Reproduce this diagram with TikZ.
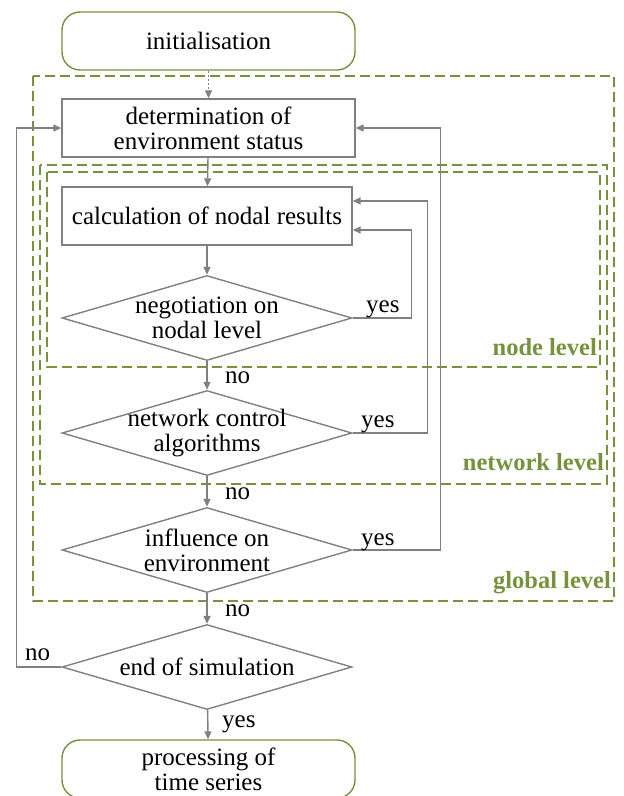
\documentclass[tikz,border=0pt]{standalone}
\usepackage{fontspec}
\setmainfont{Liberation Serif}
\usetikzlibrary{shapes.geometric,arrows.meta,calc}
\definecolor{olive}{RGB}{118,146,60}
\definecolor{linegrey}{RGB}{128,128,128}

\begin{document}
\begin{tikzpicture}[x=1pt,y=-1pt,
  every node/.style={font=\fontsize{25}{25}\selectfont},
  flow/.style={draw=linegrey, line width=1.4pt, -{Triangle[length=8pt,width=7pt]}},
  procbox/.style={draw=linegrey, line width=1.4pt, minimum width=293pt, minimum height=58pt, align=center, inner sep=0pt},
  termbox/.style={draw=olive, line width=1.4pt, rounded corners=18pt, minimum width=293pt, minimum height=58pt, align=center, inner sep=0pt},
  decision/.style={draw=linegrey, line width=1.4pt, diamond, minimum width=290pt, minimum height=85pt, inner sep=0pt},
  levelbox/.style={draw=olive, line width=1.4pt, dash pattern=on 10pt off 5pt},
  levellabel/.style={text=olive, font=\fontsize{24.5}{25}\selectfont\bfseries, anchor=base east, inner sep=0pt},
  answer/.style={inner sep=0pt, anchor=base west}
]
\useasboundingbox (0,0) rectangle (624,796);

% level frames
\draw[levelbox] (33,76) rectangle (614,601);
\draw[levelbox] (40,165) rectangle (607,484);
\draw[levelbox] (47,172) rectangle (600,367);
\node[levellabel] (lnode) at (597,355) {node level};
\node[levellabel] (lnet) at (604,470) {network level};
\node[levellabel] (lglob) at (611,588) {global level};

% flow elements
\node[termbox] (init) at (208.5,41) {initialisation};
\node[procbox] (env) at (208.5,128) {determination of\\environment status};
\node[procbox, minimum width=290pt] (calc) at (207,216) {calculation of nodal results};
\node[decision, label={[align=center]center:negotiation on\\nodal level}] (neg) at (207,318) {};
\node[decision, label={[align=center]center:network control\\algorithms}] (ctrl) at (207,433) {};
\node[decision, label={[align=center]center:influence on\\environment}] (infl) at (207,550) {};
\node[decision, label={[align=center]center:end of simulation}] (fin) at (207,667) {};
\node[termbox] (proc) at (208.5,769) {processing of\\time series};

% main path
\draw[flow, dash pattern=on 2pt off 2pt] (init) -- (env);
\draw[flow] (env) -- (calc);
\draw[flow] (calc) -- (neg);
\draw[flow] (neg) -- (ctrl);
\draw[flow] (ctrl) -- (infl);
\draw[flow] (infl) -- (fin);
\draw[flow] (fin) -- (proc);

% feedback loops
\draw[flow] (neg.east) -- ++(59,0) |- ($(calc.east)+(0,14)$);
\draw[flow] (ctrl.east) -- ++(75,0) |- ($(calc.east)+(0,-15)$);
\draw[flow] (infl.east) -- ++(88,0) |- (env.east);
\draw[flow] (fin.west) -- ++(-45,0) |- (env.west);

% answers
\node[answer] (y1) at (366,312) {yes};
\node[answer] (y2) at (361,427) {yes};
\node[answer] (y3) at (361,545) {yes};
\node[answer] (y4) at (222,727) {yes};
\node[answer] (n1) at (225,383) {no};
\node[answer] (n2) at (225,499) {no};
\node[answer] (n3) at (225,616) {no};
\node[answer] (n4) at (25,660) {no};
\end{tikzpicture}
\end{document}
